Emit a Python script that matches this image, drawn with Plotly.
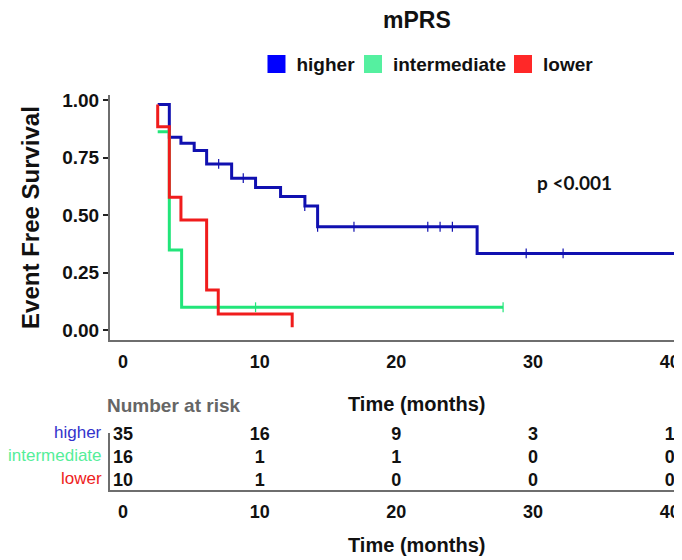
import plotly.graph_objects as go

# ---------------- data ----------------
groups = ["higher", "intermediate", "lower"]

higher_t = [2.54, 3.39, 4.24, 5.21, 6.12, 7.95, 9.70, 11.53, 13.31, 14.24, 25.91, 40.37]
higher_s = [0.980, 0.838, 0.812, 0.780, 0.722, 0.660, 0.620, 0.580, 0.539, 0.449, 0.333, 0.333]
higher_cens_t = [7.0, 8.8, 13.3, 14.24, 16.9, 22.3, 23.2, 24.1, 29.5, 32.2]
higher_cens_s = [0.722, 0.660, 0.539, 0.449, 0.449, 0.449, 0.449, 0.449, 0.333, 0.333]

inter_t = [2.54, 3.39, 4.29, 27.81]
inter_s = [0.862, 0.348, 0.099, 0.099]
inter_cens_t = [9.70, 27.81]
inter_cens_s = [0.099, 0.099]

lower_t = [2.54, 2.54, 3.39, 4.24, 6.12, 6.97, 12.38]
lower_s = [0.980, 0.884, 0.577, 0.478, 0.174, 0.070, 0.012]

risk_times = [0, 10, 20, 30, 40]
risk_higher = [35, 16, 9, 3, 1]
risk_intermediate = [16, 1, 1, 0, 0]
risk_lower = [10, 1, 0, 0, 0]

y_tickvals = [0, 0.25, 0.5, 0.75, 1.0]
y_ticktext = ["0.00", "0.25", "0.50", "0.75", "1.00"]
x_tickvals = [0, 10, 20, 30, 40]

line_colors = {"higher": "#1010B0", "intermediate": "#22E57A", "lower": "#F01C1C"}
legend_colors = {"higher": "#0000FF", "intermediate": "#55F0A0", "lower": "#FF2828"}
label_colors = {"higher": "#3333CC", "intermediate": "#55EE99", "lower": "#EE2222"}

FONT = "Liberation Sans, Arial, sans-serif"

fig = go.Figure()

curves = [
    ("higher", higher_t, higher_s, higher_cens_t, higher_cens_s),
    ("intermediate", inter_t, inter_s, inter_cens_t, inter_cens_s),
    ("lower", lower_t, lower_s, [], []),
]
for name, t, s, ct, cs in curves:
    fig.add_trace(go.Scatter(
        x=t, y=s, mode="lines", line=dict(color=line_colors[name], width=3, shape="hv"),
        showlegend=False, xaxis="x", yaxis="y", hoverinfo="skip"))
    if ct:
        fig.add_trace(go.Scatter(
            x=ct, y=cs, mode="markers",
            marker=dict(symbol="line-ns", size=7, line=dict(color=line_colors[name], width=1.2)),
            showlegend=False, xaxis="x", yaxis="y", hoverinfo="skip"))

# legend swatches, one legend per group so each can be placed like the reference
legend_ids = {"higher": "legend", "intermediate": "legend2", "lower": "legend3"}
for name in groups:
    fig.add_trace(go.Scatter(
        x=[None], y=[None], mode="markers", name=name, legend=legend_ids[name],
        marker=dict(symbol="square", size=20, color=legend_colors[name],
                    line=dict(color=legend_colors[name], width=2)),
        xaxis="x", yaxis="y"))

# number at risk table
row_y = {"higher": 3, "intermediate": 2, "lower": 1}
risk_vals = {"higher": risk_higher, "intermediate": risk_intermediate, "lower": risk_lower}
for name in groups:
    fig.add_trace(go.Scatter(
        x=risk_times, y=[row_y[name]] * len(risk_times), mode="text",
        text=[str(v) for v in risk_vals[name]], cliponaxis=False,
        textfont=dict(family=FONT, size=18, color="#111111", weight="bold"),
        showlegend=False, xaxis="x2", yaxis="y2", hoverinfo="skip"))

xr = [-0.95, 40.9]
axis_gray = "#6E6E6E"

legend_style = dict(orientation="h", xanchor="left", y=1.078, yanchor="middle",
                    font=dict(family=FONT, size=19, color="#111111", weight="bold"),
                    bgcolor="rgba(0,0,0,0)", itemclick=False)

# the page adds an 8px body margin, so the figure is 8px smaller and margins shifted
fig.update_layout(
    width=674, height=552,
    margin=dict(l=102, r=0, t=87, b=70, autoexpand=False),
    paper_bgcolor="white", plot_bgcolor="white",
    font=dict(family=FONT, color="#111111"),
    xaxis=dict(domain=[0, 1], range=xr, tickvals=x_tickvals, showline=True, linecolor=axis_gray,
               linewidth=2, showgrid=False, zeroline=False, ticks="outside", ticklen=4,
               tickcolor="rgba(0,0,0,0)", anchor="y", automargin=False,
               tickfont=dict(family=FONT, size=18, color="#111111", weight="bold")),
    yaxis=dict(domain=[0.3797, 1], range=[-0.0435, 1.0217], tickvals=y_tickvals, ticktext=y_ticktext,
               showline=True, linecolor=axis_gray, linewidth=2, showgrid=False, zeroline=False,
               ticks="outside", ticklen=5, tickwidth=2, tickcolor="#222222", anchor="x",
               automargin=False,
               tickfont=dict(family=FONT, size=19, color="#111111", weight="bold"),
               title=dict(text="Event Free Survival", standoff=16,
                          font=dict(family=FONT, size=24, color="#111111", weight="bold"))),
    xaxis2=dict(domain=[0, 1], range=xr, tickvals=x_tickvals, showline=True, linecolor=axis_gray,
                linewidth=2, showgrid=False, zeroline=False, ticks="outside", ticklen=4,
                tickcolor="rgba(0,0,0,0)", anchor="y2", automargin=False,
                tickfont=dict(family=FONT, size=18, color="#111111", weight="bold")),
    yaxis2=dict(domain=[0, 0.1443], range=[0.61, 3.09], showline=True, linecolor=axis_gray,
                linewidth=2, showgrid=False, zeroline=False, showticklabels=False, anchor="x2",
                automargin=False),
    legend=dict(x=0.2561, **legend_style),
    legend2=dict(x=0.4248, **legend_style),
    legend3=dict(x=0.6871, **legend_style),
)

annotations = [
    dict(text="mPRS", x=0.537, y=1.19, xref="paper", yref="paper", showarrow=False,
         xanchor="center", yanchor="middle",
         font=dict(family=FONT, size=23, color="#111111", weight="bold")),
    dict(text="p <0.001", x=33.0, y=0.643, xref="x", yref="y", showarrow=False,
         xanchor="center", yanchor="middle",
         font=dict(family="Lato, Open Sans, sans-serif", size=19, color="#111111", weight="bold")),
    dict(text="Time (months)", x=0.535, y=0.2177, xref="paper", yref="paper", showarrow=False,
         xanchor="center", yanchor="middle",
         font=dict(family=FONT, size=20, color="#111111", weight="bold")),
    dict(text="Number at risk", x=0.111, y=0.215, xref="paper", yref="paper", showarrow=False,
         xanchor="center", yanchor="middle",
         font=dict(family=FONT, size=19, color="#666666", weight="bold")),
    dict(text="Time (months)", x=0.535, y=-0.139, xref="paper", yref="paper", showarrow=False,
         xanchor="center", yanchor="middle",
         font=dict(family=FONT, size=20, color="#111111", weight="bold")),
]
for name in groups:
    annotations.append(dict(text=name, x=-0.0105, y=row_y[name], xref="paper", yref="y2",
                            showarrow=False, xanchor="right", yanchor="middle", yshift=3,
                            font=dict(family=FONT, size=17, color=label_colors[name])))
fig.update_layout(annotations=annotations)

fig.write_html("out.html")
